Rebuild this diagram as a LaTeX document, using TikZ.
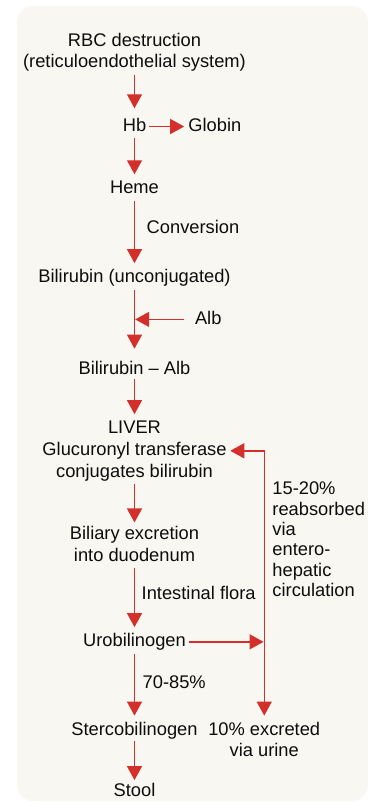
\documentclass[tikz,border=0pt]{standalone}
\usepackage{fontspec}
\setmainfont{Liberation Sans}
\usetikzlibrary{arrows.meta, positioning}
\definecolor{flowred}{HTML}{D3302C}
\definecolor{panel}{HTML}{F8F7F1}

\begin{document}
\begin{tikzpicture}[
    x=1pt, y=-1pt,
    txt/.style={inner sep=0pt, text height=13.2pt, text depth=3.9pt, font=\fontsize{18.3}{21.5}\selectfont, text=black!95},
    txtblock/.style={inner sep=0pt, align=center, font=\fontsize{18.3}{21.5}\selectfont, text=black!95},
    arrow/.style={flowred, line width=1.4pt, -{Triangle[length=14pt, width=15pt]}, shorten <=3pt, shorten >=6pt},
    arrowboth/.style={flowred, line width=1.4pt, {Triangle[length=14pt, width=15pt]}-{Triangle[length=14pt, width=15pt]}, shorten <=3.5pt, shorten >=6pt}
]

\fill[panel, rounded corners=16pt] (17,6) rectangle (368,801);
\useasboundingbox (0,0) rectangle (372,803);

% main column
\node[txtblock, anchor=north] (rbc) at (134.5,32.8) {RBC destruction\\(reticuloendothelial system)};
\node[txt, below=46pt of rbc] (hb) {Hb};
\node[txt, right=41.8pt of hb] (globin) {Globin};
\node[txt, below=45pt of hb] (heme) {Heme};
\node[txt, below=71.4pt of heme] (bili) {Bilirubin (unconjugated)};
\node[txt, below right=24pt and 60.3pt of bili.south] (alb) {Alb};
\node[txt, below=74pt of bili] (bilialb) {Bilirubin -- Alb};
\node[txt, below=42pt of bilialb] (liver) {LIVER};
\node[txt, below=4.4pt of liver] (gluc) {Glucuronyl transferase};
\node[txt, below=4.4pt of gluc] (conj) {conjugates bilirubin};
\node[txtblock, below=45pt of conj] (biliary) {Biliary excretion\\into duodenum};
\node[txt, below=71.3pt of biliary] (uro) {Urobilinogen};
\node[txt, below=71pt of uro] (sterco) {Stercobilinogen};
\node[txt, below=44pt of sterco] (stool) {Stool};

% enterohepatic loop
\coordinate[right=37.5pt of gluc] (loop);
\coordinate (junc) at (loop |- uro);
\coordinate (albjoin) at (bili |- alb);
\node[txtblock, anchor=north] (urine) at (loop |- sterco.north) {10\% excreted\\via urine};
\node[txtblock, align=left, font=\fontsize{18.3}{20.4}\selectfont, below right=31pt and 8pt of loop] (reabs) {15-20\%\\reabsorbed\\via\\entero-\\hepatic\\circulation};

\draw[arrow, shorten >=9.5pt] (rbc) -- (hb);
\draw[arrow, shorten >=4pt] (hb) -- (globin);
\draw[arrow] (hb) -- (heme);
\draw[arrow] (heme) -- node[txt, right=11.5pt, pos=0.44] (conv) {Conversion} (bili);
\draw[arrow, shorten >=12pt] (bili) -- (bilialb);
\draw[arrow, shorten <=10.5pt, shorten >=0.7pt] (alb) -- (albjoin);
\draw[arrow, shorten <=1pt] (bilialb) -- (liver);
\draw[arrow, shorten >=4pt] (conj) -- (biliary);
\draw[arrow, shorten <=6pt] (biliary) -- node[txt, right=6.5pt, pos=0.46] (flora) {Intestinal flora} (uro);
\draw[arrow] (uro) -- node[txt, right=7.5pt, pos=0.47] (pct) {70-85\%} (sterco);
\draw[arrow, shorten <=2pt, shorten >=3pt] (sterco) -- (stool);
\draw[arrow, shorten >=0.7pt] (uro) -- (junc);
\draw[arrowboth] (gluc) -- (loop) -- (urine);

\end{tikzpicture}
\end{document}
